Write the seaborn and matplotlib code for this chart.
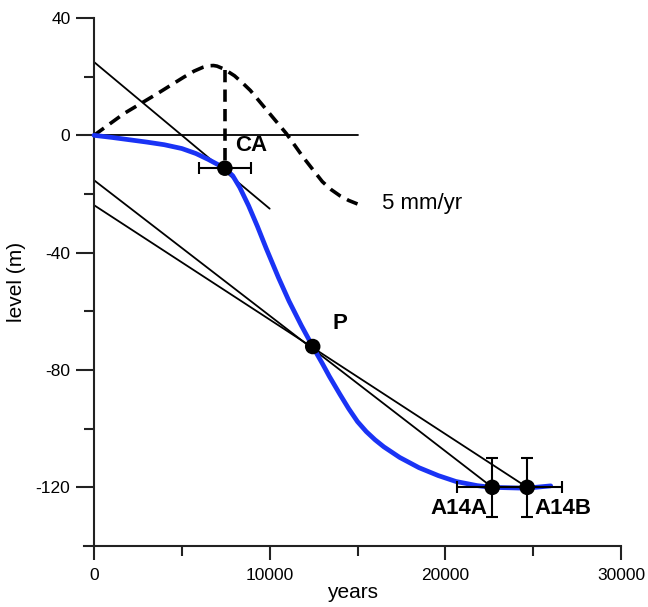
## Sea level model vs dated shorelines

#----------------------------------------------------
# import
#----------------------------------------------------

import matplotlib
matplotlib.use("Agg")
import matplotlib.pyplot as plt
import seaborn as sns

#----------------------------------------------------
# data
#----------------------------------------------------

# blue model curve
model_years = [0, 1000, 2000, 3000, 4000, 5000, 5800, 6500, 7000, 7450, 7900,
               8300, 8800, 9300, 9800, 10500, 11100, 11800, 12450, 13000, 13400,
               14000, 14500, 15000, 15500, 16000, 16500, 17400, 18500, 19600,
               20600, 21800, 22600, 24600, 26000]
model_level = [0, -0.7, -1.5, -2.3, -3.2, -4.5, -6.2, -8.2, -9.8, -11.2, -13.8,
               -17.8, -24, -31, -38.5, -48.5, -56.5, -64.8, -72, -77.8, -82.2,
               -88.3, -93.2, -97.6, -101, -103.8, -106.2, -109.8, -113.3, -116,
               -118, -119.4, -120, -120.3, -119.5]

# dashed rate curve
rate_years = [0, 1700, 3600, 5100, 5700, 6200, 6500, 6800, 7000, 7400, 8000,
              8500, 8900, 10000, 10950, 11900, 12500, 13000, 13500, 14000,
              14500, 15000]
rate_level = [0, 7.4, 14.2, 19.8, 21.9, 23.2, 23.7, 23.8, 23.6, 22.6, 20.3,
              17.6, 15.3, 7.4, 0.6, -7.4, -12, -15.8, -18.5, -20.6,
              -22.2, -23.4]
rate_label = "5 mm/yr"

# dated points
point_names = ["CA", "P", "A14A", "A14B"]
point_years = [7450, 12450, 22670, 24660]
point_level = [-11.2, -72, -120, -120]
point_xerr = [1500, 0, 2000, 2000]
point_yerr = [0, 0, 10, 10]

# straight lines (start, end)
zero_years = [0, 15000]
zero_level = [0, 0]
tangent_years = [0, 10000]
tangent_level = [25, -25]
line_a_years = [0, 22670]
line_a_level = [-15.3, -120]
line_b_years = [0, 24660]
line_b_level = [-23.8, -120]
drop_years = [7450, 7450]
drop_level = [22.4, -11.2]

x_ticks = [0, 10000, 20000, 30000]
x_minor = [5000, 15000, 25000]
y_ticks = [40, 0, -40, -80, -120]
y_minor = [20, -20, -60, -100]

#----------------------------------------------------
# show
#----------------------------------------------------

DASH = (0, (3.4, 2.0))

def show(ax):
    # thin black lines
    for xs, ys in [(zero_years, zero_level), (tangent_years, tangent_level),
                   (line_a_years, line_a_level), (line_b_years, line_b_level)]:
        sns.lineplot(x=xs, y=ys, ax=ax, color="black", linewidth=1.3,
                     errorbar=None, zorder=2)

    # dashed rate curve + drop line
    sns.lineplot(x=rate_years, y=rate_level, ax=ax, color="black", linewidth=2.6,
                 linestyle=DASH, errorbar=None, zorder=2)
    ax.plot(drop_years, drop_level, color="black", linewidth=2.6, linestyle=DASH, zorder=2)

    # blue model
    sns.lineplot(x=model_years, y=model_level, ax=ax, color="#1a33f5", linewidth=3.4,
                 errorbar=None, zorder=3, solid_joinstyle="round")

    # error bars + points
    ax.errorbar(point_years, point_level, xerr=point_xerr, yerr=point_yerr, fmt="none",
                ecolor="black", elinewidth=1.5, capsize=4, capthick=1.5, zorder=4)
    sns.scatterplot(x=point_years, y=point_level, ax=ax, color="black", s=125,
                    edgecolor="none", zorder=5)

    # labels
    bold = dict(fontsize=16, fontweight="bold", va="center")
    ax.text(8050, -3.4, point_names[0], ha="left", **bold)
    ax.text(13550, -64.2, point_names[1], ha="left", **bold)
    ax.text(22420, -127.2, point_names[2], ha="right", **bold)
    ax.text(25050, -127.2, point_names[3], ha="left", **bold)
    ax.text(16400, -23.2, rate_label, ha="left", va="center", fontsize=16)

#----------------------------------------------------
# Main
#----------------------------------------------------

def main():
    sns.set_style("ticks")
    plt.rcParams['font.family'] = ['Liberation Sans', 'DejaVu Sans']
    plt.rcParams['axes.unicode_minus'] = False
    for k in ['text.color', 'axes.labelcolor', 'xtick.color', 'ytick.color']:
        plt.rcParams[k] = "black"

    fig = plt.figure(figsize=(6.48, 6.07), dpi=100)
    ax = fig.add_axes([84 / 648, 1 - 546 / 607, (621 - 84) / 648, (546 - 18) / 607])

    show(ax)

    ax.set_xlim(-570, 30000)
    ax.set_ylim(-140, 40)
    ax.spines['top'].set_visible(False)
    ax.spines['right'].set_visible(False)
    ax.spines['left'].set_position(('data', 0))
    for s in ['left', 'bottom']:
        ax.spines[s].set_linewidth(1.5)
        ax.spines[s].set_color("#222222")

    ax.set_xticks(x_ticks)
    ax.set_xticks(x_minor, minor=True)
    ax.set_yticks(y_ticks)
    ax.set_yticks(y_minor, minor=True)
    ax.tick_params(axis='x', which='major', length=10, width=1.5, pad=6, labelsize=12.5, color="#222222")
    ax.tick_params(axis='x', which='minor', length=7, width=1.5, color="#222222")
    ax.tick_params(axis='y', which='major', length=13, width=1.5, pad=4, labelsize=12.5, color="#222222")
    ax.tick_params(axis='y', which='minor', length=7, width=1.5, color="#222222")

    ax.set_xlabel("years", fontsize=15, labelpad=0)
    ax.set_ylabel("level (m)", fontsize=15)
    ax.yaxis.set_label_coords(-0.108, 0.5)

    fig.savefig("out.png", dpi=100)

    return


## if the file is being read WITH the intent of being executed
if __name__ == '__main__':
    main()
